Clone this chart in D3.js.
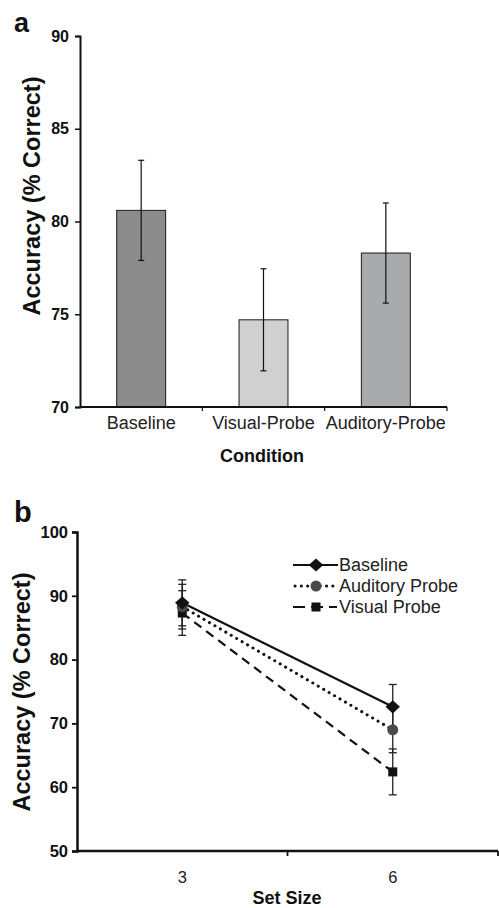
<!DOCTYPE html>
<html>
<head>
<meta charset="utf-8">
<script src="https://cdn.jsdelivr.net/npm/d3@7"></script>
<style>
  body { margin: 0; background: #fff; }
  svg { display: block; font-family: "Liberation Sans", Arial, sans-serif; }
</style>
</head>
<body>
<div id="chart"></div>
<script>
  // panel a: accuracy by condition
  var conditions = ["Baseline", "Visual-Probe", "Auditory-Probe"];
  var condMeans = [80.6, 74.7, 78.3];
  var condErrors = [2.7, 2.75, 2.7];
  var condColors = ["#8c8c8c", "#d0d0d0", "#a9aaab"];
  var ticksA = [70, 75, 80, 85, 90];

  // panel b: accuracy by set size
  var setSizes = ["3", "6"];
  var seriesNames = ["Baseline", "Auditory Probe", "Visual Probe"];
  var baselineVals = [88.9, 72.6];
  var auditoryVals = [88.3, 69.0];
  var visualVals = [87.3, 62.4];
  var baselineErr = [3.6, 3.5];
  var auditoryErr = [3.5, 3.6];
  var visualErr = [3.5, 3.6];
  var ticksB = [50, 60, 70, 80, 90, 100];

  var svg = d3.select("#chart").append("svg")
    .attr("width", 499)
    .attr("height", 908);

  // ---------- panel a ----------
  var xA = d3.scaleBand().domain(conditions).range([80, 447])
    .paddingInner(0.6).paddingOuter(0.3);
  var yA = d3.scaleLinear().domain([70, 90]).range([407, 36]);

  var ga = svg.append("g");

  ga.selectAll("rect.bar")
    .data(conditions)
    .join("rect")
    .attr("class", "bar")
    .attr("x", d => xA(d))
    .attr("width", xA.bandwidth())
    .attr("y", (d, i) => yA(condMeans[i]))
    .attr("height", (d, i) => yA(70) - yA(condMeans[i]))
    .attr("fill", (d, i) => condColors[i])
    .attr("stroke", "#1a1a1a")
    .attr("stroke-width", 1);

  // error bars
  var errA = ga.selectAll("g.err")
    .data(conditions)
    .join("g")
    .attr("class", "err")
    .attr("stroke", "#111")
    .attr("stroke-width", 1.2);
  errA.append("line")
    .attr("x1", d => xA(d) + xA.bandwidth() / 2)
    .attr("x2", d => xA(d) + xA.bandwidth() / 2)
    .attr("y1", (d, i) => yA(condMeans[i] + condErrors[i]))
    .attr("y2", (d, i) => yA(condMeans[i] - condErrors[i]));
  [1, -1].forEach(function(s) {
    errA.append("line")
      .attr("x1", d => xA(d) + xA.bandwidth() / 2 - 3)
      .attr("x2", d => xA(d) + xA.bandwidth() / 2 + 3)
      .attr("y1", (d, i) => yA(condMeans[i] + s * condErrors[i]))
      .attr("y2", (d, i) => yA(condMeans[i] + s * condErrors[i]));
  });

  // y axis
  var yAxisA = ga.append("g")
    .attr("transform", "translate(80,0)")
    .call(d3.axisLeft(yA).tickValues(ticksA).tickSize(5).tickPadding(6));
  yAxisA.select(".domain").attr("stroke", "#111").attr("stroke-width", 2);
  yAxisA.selectAll(".tick line").attr("stroke", "#111").attr("stroke-width", 1.5);
  yAxisA.selectAll(".tick text")
    .attr("font-size", 16).attr("font-weight", "bold").attr("fill", "#111")
    .attr("font-family", "Liberation Sans, Arial, sans-serif");

  // x axis with ticks at category boundaries
  var x0 = xA.range()[0];
  ga.append("line")
    .attr("x1", x0).attr("x2", xA.range()[1])
    .attr("y1", yA(70)).attr("y2", yA(70))
    .attr("stroke", "#111").attr("stroke-width", 2);
  ga.selectAll("line.xtick")
    .data(d3.range(1, conditions.length + 1))
    .join("line")
    .attr("class", "xtick")
    .attr("x1", i => x0 + i * xA.step()).attr("x2", i => x0 + i * xA.step())
    .attr("y1", yA(70)).attr("y2", yA(70) + 4)
    .attr("stroke", "#111").attr("stroke-width", 1.2);
  ga.selectAll("text.xlab")
    .data(conditions)
    .join("text")
    .attr("class", "xlab")
    .attr("x", d => xA(d) + xA.bandwidth() / 2)
    .attr("y", 429)
    .attr("text-anchor", "middle")
    .attr("font-size", 18)
    .attr("fill", "#222")
    .text(d => d);

  ga.append("text")
    .attr("x", 262).attr("y", 462)
    .attr("text-anchor", "middle")
    .attr("font-size", 18).attr("font-weight", "bold").attr("fill", "#111")
    .text("Condition");

  ga.append("text")
    .attr("transform", "translate(40,196) rotate(-90)")
    .attr("text-anchor", "middle")
    .attr("font-size", 23.5).attr("font-weight", "bold").attr("fill", "#111")
    .text("Accuracy (% Correct)");

  ga.append("text")
    .attr("x", 14).attr("y", 32)
    .attr("font-size", 27).attr("font-weight", "bold").attr("fill", "#111")
    .text("a");

  // ---------- panel b ----------
  var xB = d3.scaleBand().domain(setSizes).range([77, 498]).padding(0);
  var yB = d3.scaleLinear().domain([50, 100]).range([851, 532]);
  var cx = d => xB(d) + xB.bandwidth() / 2;

  var gb = svg.append("g");

  var series = [
    { name: seriesNames[0], vals: baselineVals, err: baselineErr, dash: null, cap: "butt", width: 2.2, color: "#111", marker: "diamond" },
    { name: seriesNames[1], vals: auditoryVals, err: auditoryErr, dash: "0.1,6.2", cap: "round", width: 3, color: "#111", marker: "circle" },
    { name: seriesNames[2], vals: visualVals, err: visualErr, dash: "9,6", cap: "butt", width: 2.2, color: "#111", marker: "square" }
  ];

  // error bars first
  series.forEach(function(s) {
    var g = gb.append("g").attr("stroke", "#222").attr("stroke-width", 1.3);
    setSizes.forEach(function(c, i) {
      g.append("line")
        .attr("x1", cx(c)).attr("x2", cx(c))
        .attr("y1", yB(s.vals[i] + s.err[i])).attr("y2", yB(s.vals[i] - s.err[i]));
      [1, -1].forEach(function(k) {
        g.append("line")
          .attr("x1", cx(c) - 4).attr("x2", cx(c) + 4)
          .attr("y1", yB(s.vals[i] + k * s.err[i])).attr("y2", yB(s.vals[i] + k * s.err[i]));
      });
    });
  });

  var line = d3.line().x(d => cx(d.c)).y(d => yB(d.v));

  series.forEach(function(s) {
    var pts = setSizes.map((c, i) => ({ c: c, v: s.vals[i] }));
    gb.append("path")
      .datum(pts)
      .attr("d", line)
      .attr("fill", "none")
      .attr("stroke", s.color)
      .attr("stroke-width", s.width)
      .attr("stroke-linecap", s.cap)
      .attr("stroke-dasharray", s.dash);
  });

  function drawMarker(g, type, x, y) {
    if (type === "diamond") {
      g.append("path")
        .attr("d", d3.symbol().type(d3.symbolDiamond2).size(110)())
        .attr("transform", "translate(" + x + "," + y + ") scale(1.1,1)")
        .attr("fill", "#111");
    } else if (type === "circle") {
      g.append("circle").attr("cx", x).attr("cy", y).attr("r", 5.5).attr("fill", "#4a4a4a");
    } else {
      g.append("rect").attr("x", x - 4.5).attr("y", y - 4.5).attr("width", 9).attr("height", 9).attr("fill", "#111");
    }
  }

  // markers, drawn bottom-most series first so baseline sits on top
  series.slice().reverse().forEach(function(s) {
    setSizes.forEach(function(c, i) {
      drawMarker(gb, s.marker, cx(c), yB(s.vals[i]));
    });
  });

  // y axis
  var yAxisB = gb.append("g")
    .attr("transform", "translate(77,0)")
    .call(d3.axisLeft(yB).tickValues(ticksB).tickSize(5).tickPadding(4));
  yAxisB.select(".domain").attr("stroke", "#111").attr("stroke-width", 2.5);
  yAxisB.selectAll(".tick line").attr("stroke", "#111").attr("stroke-width", 1.8);
  yAxisB.selectAll(".tick text")
    .attr("font-size", 16.5).attr("font-weight", "bold").attr("fill", "#111")
    .attr("font-family", "Liberation Sans, Arial, sans-serif");

  // x axis: line with ticks at band boundaries, labels at band centres
  gb.append("line")
    .attr("x1", xB.range()[0]).attr("x2", xB.range()[1])
    .attr("y1", yB(50)).attr("y2", yB(50))
    .attr("stroke", "#111").attr("stroke-width", 2.5);
  gb.selectAll("line.xtick")
    .data(d3.range(1, setSizes.length + 1))
    .join("line")
    .attr("class", "xtick")
    .attr("x1", i => xB.range()[0] + i * xB.step()).attr("x2", i => xB.range()[0] + i * xB.step())
    .attr("y1", yB(50)).attr("y2", yB(50) + 5)
    .attr("stroke", "#111").attr("stroke-width", 1.8);
  gb.selectAll("text.xlab")
    .data(setSizes)
    .join("text")
    .attr("class", "xlab")
    .attr("x", d => cx(d))
    .attr("y", 883)
    .attr("text-anchor", "middle")
    .attr("font-size", 16.5)
    .attr("fill", "#222")
    .text(d => d);

  gb.append("text")
    .attr("x", 287).attr("y", 904)
    .attr("text-anchor", "middle")
    .attr("font-size", 18).attr("font-weight", "bold").attr("fill", "#111")
    .text("Set Size");

  gb.append("text")
    .attr("transform", "translate(30,692) rotate(-90)")
    .attr("text-anchor", "middle")
    .attr("font-size", 23.5).attr("font-weight", "bold").attr("fill", "#111")
    .text("Accuracy (% Correct)");

  gb.append("text")
    .attr("x", 14).attr("y", 522)
    .attr("font-size", 29).attr("font-weight", "bold").attr("fill", "#111")
    .text("b");

  // legend
  var legend = gb.append("g").attr("transform", "translate(293,565)");
  series.forEach(function(s, i) {
    var row = legend.append("g").attr("transform", "translate(0," + (i * 21) + ")");
    row.append("line")
      .attr("x1", i === 1 ? 2 : 0).attr("x2", i === 2 ? 44 : 45)
      .attr("y1", 0).attr("y2", 0)
      .attr("stroke", s.color)
      .attr("stroke-width", s.width)
      .attr("stroke-linecap", s.cap)
      .attr("stroke-dasharray", i === 2 ? "12,6" : s.dash);
    drawMarker(row, s.marker, 23, 0);
    row.append("text")
      .attr("x", 46).attr("y", 6)
      .attr("font-size", 18)
      .attr("fill", "#222")
      .text(s.name);
  });
</script>
</body>
</html>
